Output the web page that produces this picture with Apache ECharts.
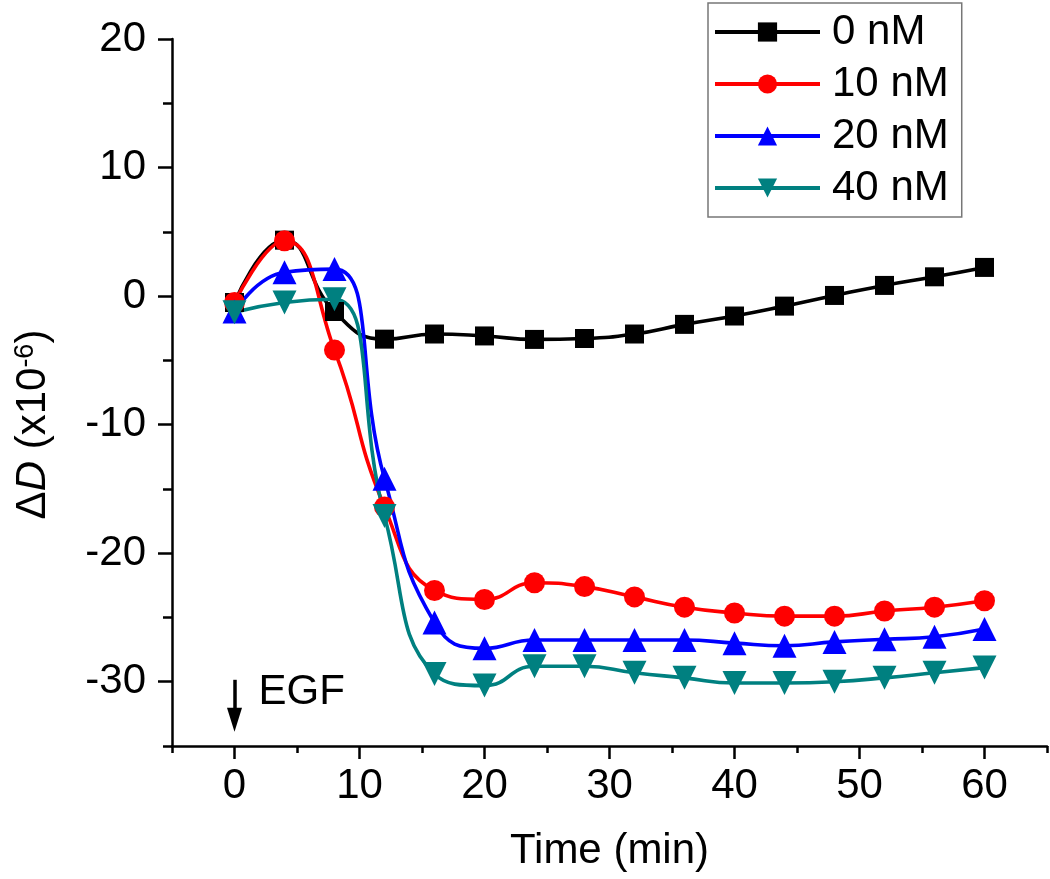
<!DOCTYPE html>
<html>
<head>
<meta charset="utf-8">
<script src="https://cdn.jsdelivr.net/npm/echarts@6/dist/echarts.min.js"></script>
<style>
html,body{margin:0;padding:0;background:#fff;}
#chart{width:1050px;height:879px;}
</style>
</head>
<body>
<div id="chart"></div>
<script>
// ---- data ----
const time = [0, 4, 8, 12, 16, 20, 24, 28, 32, 36, 40, 44, 48, 52, 56, 60];
const nM0  = [-0.5, 4.35, -1.2, -3.35, -2.95, -3.1, -3.37, -3.3, -2.95, -2.2, -1.55, -0.78, 0.05, 0.83, 1.5, 2.23];
const nM10 = [-0.5, 4.3, -4.2, -16.4, -22.9, -23.6, -22.3, -22.6, -23.4, -24.2, -24.65, -24.9, -24.9, -24.5, -24.2, -23.7];
const nM20 = [-1.2, 1.85, 2.1, -14.2, -25.4, -27.4, -26.75, -26.75, -26.75, -26.75, -27.0, -27.2, -26.9, -26.7, -26.5, -25.9];
const nM40 = [-1.25, -0.5, -0.25, -17.1, -29.4, -30.3, -28.8, -28.8, -29.3, -29.7, -30.1, -30.1, -30.0, -29.7, -29.3, -28.9];
const seriesNames = ['0 nM', '10 nM', '20 nM', '40 nM'];
const xTicks = [0, 10, 20, 30, 40, 50, 60];
const yTicks = [-30, -20, -10, 0, 10, 20];
const egfShaft = [0, -29.85, -32.5];   // time, start value, end value
const egfHead = [0, -32.95];           // centre of arrow head
const egfLabel = [0, -30.85];

const FONT = 'Liberation Sans, Arial, sans-serif';
const pair = (ys) => time.map((t, i) => [t, ys[i]]);

const chart = echarts.init(document.getElementById('chart'), null, {renderer: 'canvas'});

function mkSeries(name, data, color, symbol, size) {
  return {
    name: name, type: 'line', data: pair(data), smooth: 0.5,
    xAxisIndex: 0, yAxisIndex: 0,
    symbol: symbol, symbolSize: size, showAllSymbol: true,
    lineStyle: {color: color, width: 3.6},
    itemStyle: {color: color, borderWidth: 0},
    emphasis: {disabled: true}
  };
}

const s0 = mkSeries(seriesNames[0], nM0, '#000000', 'rect', 19);
s0.markLine = {
  silent: true, symbol: ['none', 'none'],
  lineStyle: {color: '#000', width: 3.5, type: 'solid'},
  label: {show: false}, emphasis: {disabled: true},
  data: [[{coord: [egfShaft[0], egfShaft[1]]}, {coord: [egfShaft[0], egfShaft[2]]}]]
};
s0.markPoint = {
  silent: true,
  emphasis: {disabled: true},
  data: [
    {coord: egfLabel, symbol: 'circle', symbolSize: 0,
     itemStyle: {color: 'rgba(0,0,0,0)'},
     label: {show: true, position: 'right', distance: 24, formatter: 'EGF',
             fontSize: 42, fontFamily: FONT, color: '#000'}},
    {coord: egfHead, symbol: 'path://M0,0 L10,0 L5,16 Z', symbolSize: [15, 24],
     itemStyle: {color: '#000'}, label: {show: false}}
  ]
};

const option = {
  backgroundColor: '#fff',
  animation: false,
  grid: {left: 172, right: 3, top: 39, bottom: 133, containLabel: false},
  legend: {
    orient: 'vertical', left: 708, top: 3,
    padding: [8, 13, 8, 5],
    itemWidth: 105, itemHeight: 24, itemGap: 10,
    borderColor: '#777', borderWidth: 1.5,
    lineStyle: {width: 4},
    textStyle: {fontSize: 42, fontFamily: FONT, color: '#000', padding: [0, 0, 0, 7]},
    data: seriesNames
  },
  xAxis: [{
    type: 'value', min: -5, max: 65, position: 'bottom',
    name: 'Time (min)', nameLocation: 'middle', nameGap: 84,
    nameTextStyle: {fontSize: 42, fontFamily: FONT, color: '#000'},
    axisLine: {show: true, onZero: false, lineStyle: {color: '#000', width: 2.5}},
    axisTick: {show: true, customValues: xTicks, length: 13, lineStyle: {color: '#000', width: 2.5}},
    axisLabel: {customValues: xTicks, margin: 19, fontSize: 42, fontFamily: FONT, color: '#000'},
    splitLine: {show: false}
  }, {
    type: 'value', min: -5, max: 65, interval: 5, position: 'bottom',
    axisLine: {show: false, onZero: false},
    axisTick: {show: true, length: 7, lineStyle: {color: '#000', width: 2.5}},
    axisLabel: {show: false}, splitLine: {show: false}
  }],
  yAxis: [{
    type: 'value', min: -35, max: 20, position: 'left',
    name: '{a|Δ}{i|D}{a| (x10}{s|-6}{a|)}', nameLocation: 'middle', nameGap: 118, nameRotate: 90,
    nameTextStyle: {
      fontSize: 42, fontFamily: FONT, color: '#000', padding: [0, 64, 0, 0],
      rich: {
        a: {fontSize: 42, fontFamily: FONT, color: '#000'},
        i: {fontSize: 42, fontFamily: FONT, fontStyle: 'italic', color: '#000'},
        s: {fontSize: 27, fontFamily: FONT, color: '#000', verticalAlign: 'top', lineHeight: 42, padding: [0, 0, 14, 0]}
      }
    },
    axisLine: {show: true, onZero: false, lineStyle: {color: '#000', width: 2.5}},
    axisTick: {show: true, customValues: yTicks, length: 14, lineStyle: {color: '#000', width: 2.5}},
    axisLabel: {customValues: yTicks, margin: 26, fontSize: 42, fontFamily: FONT, color: '#000'},
    splitLine: {show: false}
  }, {
    type: 'value', min: -35, max: 20, interval: 5, position: 'left',
    axisLine: {show: false, onZero: false},
    axisTick: {show: true, length: 9, lineStyle: {color: '#000', width: 2.5}},
    axisLabel: {show: false}, splitLine: {show: false}
  }],
  series: [
    s0,
    mkSeries(seriesNames[1], nM10, '#ff0000', 'circle', 21),
    mkSeries(seriesNames[2], nM20, '#0000ff', 'triangle', 24),
    mkSeries(seriesNames[3], nM40, '#008080', 'path://M0,0 L10,0 L5,9 Z', 24)
  ]
};
chart.setOption(option);
</script>
</body>
</html>
